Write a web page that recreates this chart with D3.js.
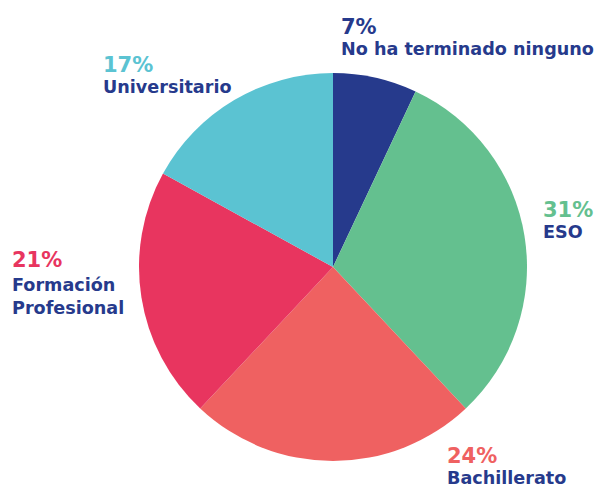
<!DOCTYPE html>
<html>
<head>
<meta charset="utf-8">
<script src="https://cdn.jsdelivr.net/npm/d3@7"></script>
<style>
  body { margin: 0; background: #fff; }
  text { font-family: "DejaVu Sans", sans-serif; font-weight: 700; }
</style>
</head>
<body>
<div id="chart"></div>
<script>
  var width = 607,
      height = 487;

  var categories = ['No ha terminado ninguno', 'ESO', 'Bachillerato', 'Formación Profesional', 'Universitario'];
  var values = [7, 31, 24, 21, 17];
  var colors = ['#263a8c', '#64c08f', '#ef6161', '#e8355f', '#5bc3d2'];
  // label lines per slice (category split as in the picture)
  var labelLines = [['No ha terminado ninguno'], ['ESO'], ['Bachillerato'], ['Formación', 'Profesional'], ['Universitario']];
  var labelPos = [[341, 34], [543, 217], [447, 463], [12, 267], [103, 72]];

  var navy = '#263a8c';
  var cx = 333, cy = 267, radius = 194;

  var svg = d3.select('#chart').append('svg')
    .attr('width', width)
    .attr('height', height);

  var pie = d3.pie().sort(null).value(function(d){ return d; });
  var arc = d3.arc().innerRadius(0).outerRadius(radius);

  var g = svg.append('g').attr('transform', 'translate(' + cx + ',' + cy + ')');

  g.selectAll('path')
    .data(pie(values))
    .enter().append('path')
    .attr('d', arc)
    .style('fill', function(d, i){ return colors[i]; });

  var labels = svg.selectAll('g.label')
    .data(categories)
    .enter().append('g')
    .attr('class', 'label')
    .attr('transform', function(d, i){ return 'translate(' + labelPos[i][0] + ',' + labelPos[i][1] + ')'; });

  labels.append('text')
    .attr('font-size', 21)
    .style('fill', function(d, i){ return colors[i]; })
    .text(function(d, i){ return values[i] + '%'; });

  labels.each(function(d, i){
    var sel = d3.select(this);
    var first = labelLines[i].length > 1 ? 24 : 21;
    labelLines[i].forEach(function(line, j){
      sel.append('text')
        .attr('y', first + j * 23)
        .attr('font-size', 17.6)
        .style('fill', navy)
        .text(line);
    });
  });
</script>
</body>
</html>
